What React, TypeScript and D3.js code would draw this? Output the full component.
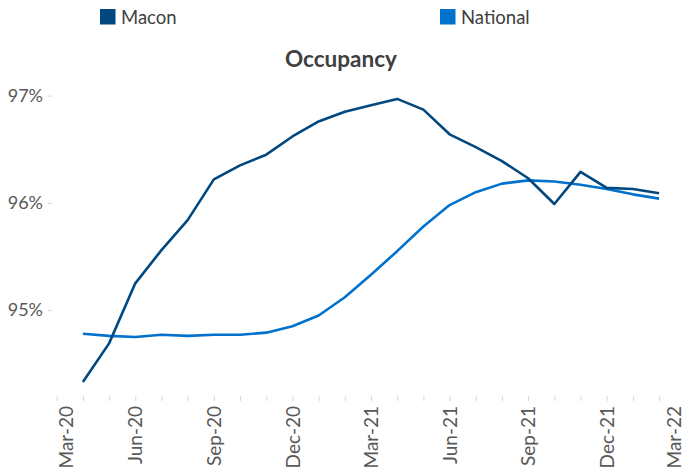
import React, { useEffect, useRef } from 'react';
import * as D3 from 'd3';

const dimensions = {
    width: 684,
    height: 469,
}

// months on the axis, Mar-20 .. Mar-22
const axisMonths = [
    'Mar-20', 'Apr-20', 'May-20', 'Jun-20', 'Jul-20', 'Aug-20', 'Sep-20', 'Oct-20', 'Nov-20',
    'Dec-20', 'Jan-21', 'Feb-21', 'Mar-21', 'Apr-21', 'May-21', 'Jun-21', 'Jul-21', 'Aug-21',
    'Sep-21', 'Oct-21', 'Nov-21', 'Dec-21', 'Jan-22', 'Feb-22', 'Mar-22',
];

const tickLabels = ['Mar-20', 'Jun-20', 'Sep-20', 'Dec-20', 'Mar-21', 'Jun-21', 'Sep-21', 'Dec-21', 'Mar-22'];

// data months, Apr-20 .. Feb-22
const dataMonths = axisMonths.slice(1, 24);

const macon = [
    94.33, 94.69, 95.25, 95.56, 95.84, 96.22, 96.35, 96.45, 96.62, 96.76, 96.85, 96.91,
    96.97, 96.87, 96.64, 96.52, 96.39, 96.23, 95.99, 96.29, 96.14, 96.13, 96.09,
];

const national = [
    94.78, 94.76, 94.75, 94.77, 94.76, 94.77, 94.77, 94.79, 94.85, 94.95, 95.12, 95.33,
    95.55, 95.78, 95.98, 96.10, 96.18, 96.21, 96.20, 96.17, 96.13, 96.08, 96.04,
];

const yTicks = [95, 96, 97];

const colors = {
    macon: '#00487F',
    national: '#0072CE',
}

const font = 'Lato, "Open Sans", sans-serif';

const App = () => {

    const container = useRef(null);

    useEffect(() => {

        if (container.current) {

            D3.select(container.current).selectAll('*').remove();

            const svg = D3.select(container.current)
                .append('svg')
                .attr('width', dimensions.width)
                .attr('height', dimensions.height)
                .style('position', 'absolute')
                .style('left', 0)
                .style('top', 0)
                .style('font-family', font);

            const xScale = D3.scaleLinear()
                .domain([0, axisMonths.length - 1])
                .range([56.7, 685.3]);

            const yScale = D3.scaleLinear()
                .domain([94.19, 97])
                .range([397, 95.7]);

            const xIndex = (m: string) => axisMonths.indexOf(m);

            // legend
            const legend = [
                { name: 'Macon', color: colors.macon, x: 100 },
                { name: 'National', color: colors.national, x: 440 },
            ];
            const lg = svg.append('g').selectAll('g').data(legend).join('g')
                .attr('transform', (d: any) => `translate(${d.x}, 9)`);
            lg.append('rect')
                .attr('width', 15.5)
                .attr('height', 15.5)
                .attr('fill', (d: any) => d.color);
            lg.append('text')
                .attr('x', 21)
                .attr('y', 15.3)
                .attr('fill', '#404040')
                .style('font-size', '18.5px')
                .text((d: any) => d.name);

            // title
            svg.append('text')
                .attr('x', 341)
                .attr('y', 67)
                .attr('text-anchor', 'middle')
                .attr('fill', '#404040')
                .style('font-size', '22.5px')
                .style('font-weight', 'bold')
                .text('Occupancy');

            // y axis: labels + short ticks only
            const yAxis = D3.axisLeft(yScale)
                .tickValues(yTicks)
                .tickSize(4)
                .tickPadding(5)
                .tickFormat((d: any) => d + '%');

            const yAxisGroup = svg.append('g')
                .attr('transform', 'translate(52, 0)')
                .call(yAxis);
            yAxisGroup.select('.domain').remove();
            yAxisGroup.selectAll('line').attr('stroke', '#d9d9d9');
            yAxisGroup.selectAll('text')
                .attr('fill', '#595959')
                .style('font-size', '18px')
                .style('font-family', font);

            // x axis: tick every month, labels every quarter
            const xAxis = D3.axisBottom(xScale)
                .tickValues(D3.range(axisMonths.length))
                .tickSize(5)
                .tickFormat((d: any) => tickLabels.includes(axisMonths[d]) ? axisMonths[d] : '');

            const xAxisGroup = svg.append('g')
                .attr('transform', 'translate(0, 396)')
                .call(xAxis);
            xAxisGroup.select('.domain').remove();
            xAxisGroup.selectAll('line').attr('stroke', '#d9d9d9');
            // first and last labels sit a little inward, as in the original
            const last = axisMonths.length - 1;
            xAxisGroup.selectAll('text')
                .attr('fill', '#595959')
                .style('font-size', '19px')
                .style('font-family', font)
                .style('text-anchor', 'end')
                .attr('x', -10)
                .attr('y', (d: any) => d === 0 ? 9 : d === last ? -11 : 0)
                .attr('dy', '0.35em')
                .attr('transform', 'rotate(-90)');

            const line = D3.line<number>()
                .x((_d: number, i: number) => xScale(xIndex(dataMonths[i])))
                .y((d: number) => yScale(d));

            svg.append('path')
                .datum(national)
                .attr('fill', 'none')
                .attr('stroke', colors.national)
                .attr('stroke-width', 2.6)
                .attr('stroke-linejoin', 'round')
                .attr('d', line);

            svg.append('path')
                .datum(macon)
                .attr('fill', 'none')
                .attr('stroke', colors.macon)
                .attr('stroke-width', 2.6)
                .attr('stroke-linejoin', 'round')
                .attr('d', line);
        }

    }, [container.current])

    return (<div ref={container} />);

}

export default App;
